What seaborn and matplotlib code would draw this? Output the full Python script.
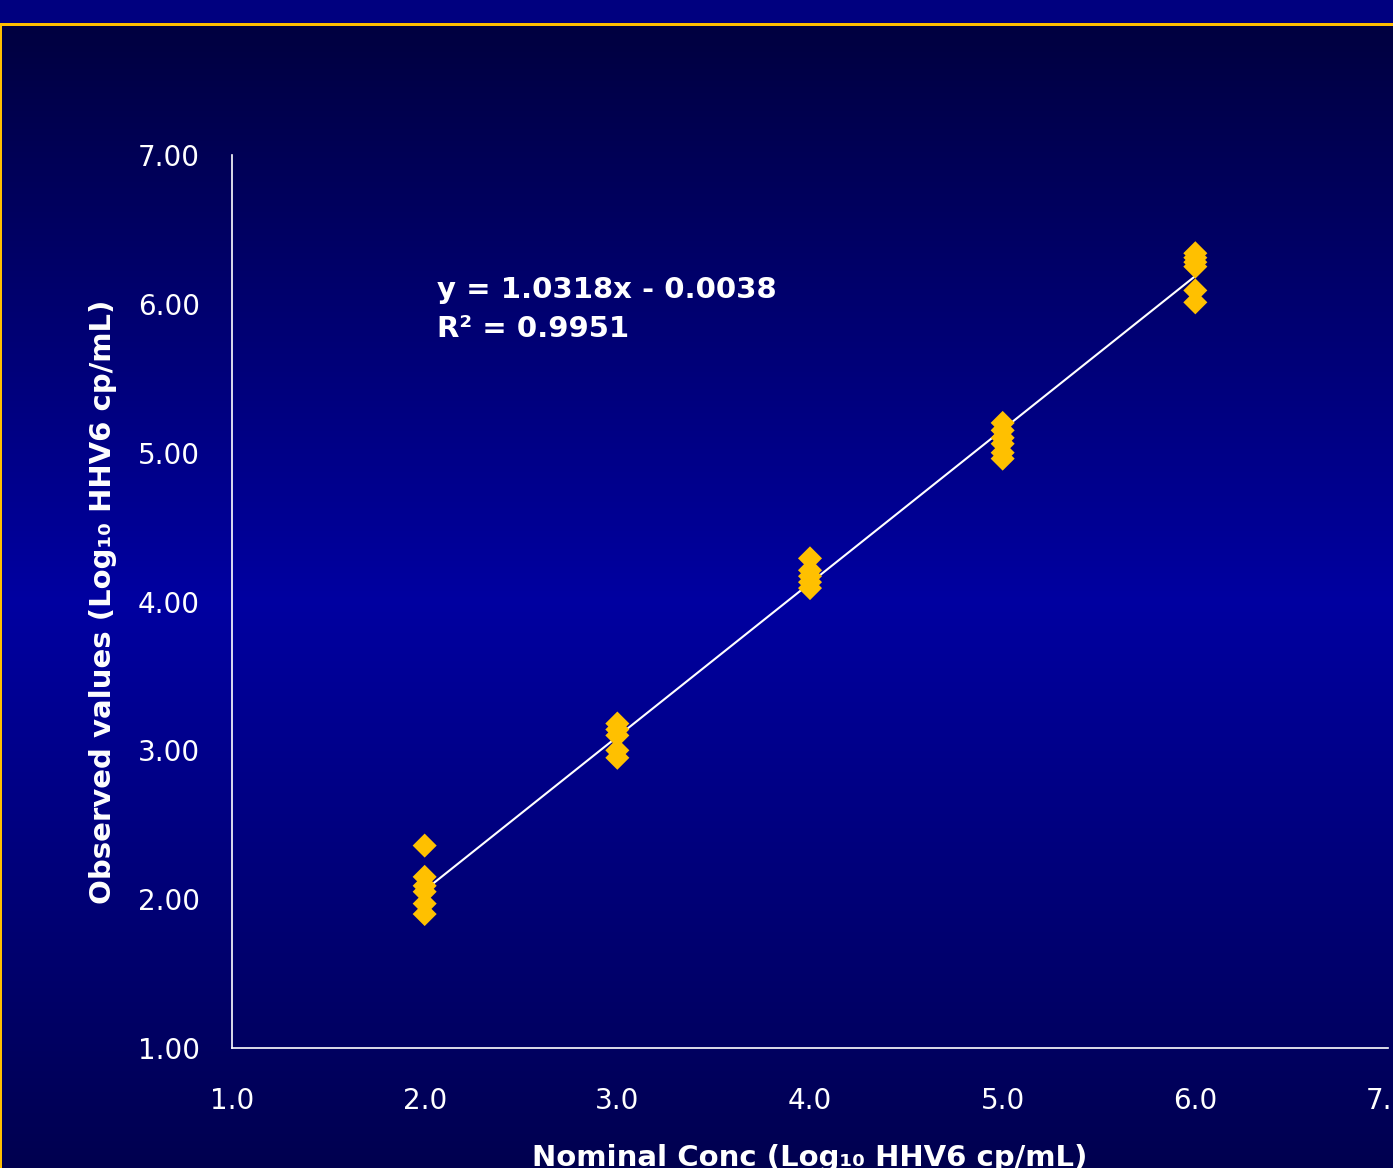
import numpy as np
import pandas as pd
import matplotlib
matplotlib.use('Agg')
import matplotlib.pyplot as plt
import seaborn as sns

# Data
nominal_levels = [2.0, 3.0, 4.0, 5.0, 6.0]
observed_2 = [2.36, 2.15, 2.09, 2.05, 1.97, 1.90]
observed_3 = [3.18, 3.14, 3.10, 3.00, 2.95]
observed_4 = [4.29, 4.21, 4.17, 4.13, 4.09]
observed_5 = [5.20, 5.15, 5.10, 5.06, 5.00, 4.96]
observed_6 = [6.34, 6.31, 6.28, 6.25, 6.09, 6.01]

slope = 1.0318
intercept = -0.0038
r_squared = 0.9951

x_ticks = [1.0, 2.0, 3.0, 4.0, 5.0, 6.0, 7.0]
y_ticks = [1.0, 2.0, 3.0, 4.0, 5.0, 6.0, 7.0]

rows = []
for lvl, vals in zip(nominal_levels, [observed_2, observed_3, observed_4, observed_5, observed_6]):
    for v in vals:
        rows.append({'nominal': lvl, 'observed': v})
df = pd.DataFrame(rows)

fit_x = np.array([min(nominal_levels), max(nominal_levels)])
fit_df = pd.DataFrame({'nominal': fit_x, 'fit': slope * fit_x + intercept})

sns.set_theme(style='white')
plt.rcParams['font.family'] = ['DejaVu Sans']

YELLOW = '#FFC000'
W, H = 1393, 1168
fig = plt.figure(figsize=(W / 100, H / 100), dpi=100)

# slide background: navy band, yellow rule, dark-light-dark blue gradient
bg = fig.add_axes([0, 0, 1, 1])
bg.axis('off')
img = np.zeros((H, W, 3))
rr = np.arange(H)
top_c, mid_c, bot_c = 0.25, 0.63, 0.31
mid_row = 600
blue = np.where(rr < mid_row,
                top_c + (mid_c - top_c) * (rr - 26) / (mid_row - 26),
                mid_c + (bot_c - mid_c) * (rr - mid_row) / (H - mid_row))
img[:, :, 2] = blue[:, None]
img[:23, :, 2] = 0.5
img[23:26, :, :] = [1.0, 0.75, 0.0]
img[26:, 0:2, :] = [1.0, 0.75, 0.0]
bg.imshow(img, extent=[0, W, H, 0], aspect='auto', interpolation='nearest')
bg.set_xlim(0, W)
bg.set_ylim(H, 0)

ax = fig.add_axes([232 / W, 1 - 1048 / H, (1388 - 232) / W, (1048 - 155) / H])
ax.patch.set_alpha(0)

sns.lineplot(data=fit_df, x='nominal', y='fit', ax=ax, color='white', linewidth=1.5, zorder=2)
sns.scatterplot(data=df, x='nominal', y='observed', ax=ax, marker='D', s=150,
                color=YELLOW, edgecolor='none', linewidth=0, zorder=3)

ax.set_xlim(1, 7)
ax.set_ylim(1, 7)
ax.set_xticks(x_ticks)
ax.set_xticklabels([f'{t:.1f}' for t in x_ticks])
ax.set_yticks(y_ticks)
ax.set_yticklabels([f'{t:.2f}' for t in y_ticks])
ax.tick_params(axis='x', length=0, pad=28, labelsize=20, labelcolor='white')
ax.tick_params(axis='y', length=0, pad=23, labelsize=20, labelcolor='white')

for side in ['top', 'right']:
    ax.spines[side].set_visible(False)
for side in ['left', 'bottom']:
    ax.spines[side].set_color('white')
    ax.spines[side].set_linewidth(1.2)

ax.set_xlabel('Nominal Conc (Log\u2081\u2080 HHV6 cp/mL)', fontsize=21, fontweight='bold',
              color='white', va='center')
ax.xaxis.set_label_coords(0.5, (1048 - 1158) / (1048 - 155))
ax.set_ylabel('Observed values (Log\u2081\u2080 HHV6 cp/mL)', fontsize=21, fontweight='bold',
              color='white', va='center')
ax.yaxis.set_label_coords((103 - 232) / (1388 - 232), 0.5)

ax.text(2.065, 6.09, f'y = {slope:.4f}x - {abs(intercept):.4f}', fontsize=21,
        fontweight='bold', color='white', ha='left', va='center')
ax.text(2.065, 5.83, f'R\u00b2 = {r_squared:.4f}', fontsize=21,
        fontweight='bold', color='white', ha='left', va='center')

fig.savefig('out.png', dpi=100)
